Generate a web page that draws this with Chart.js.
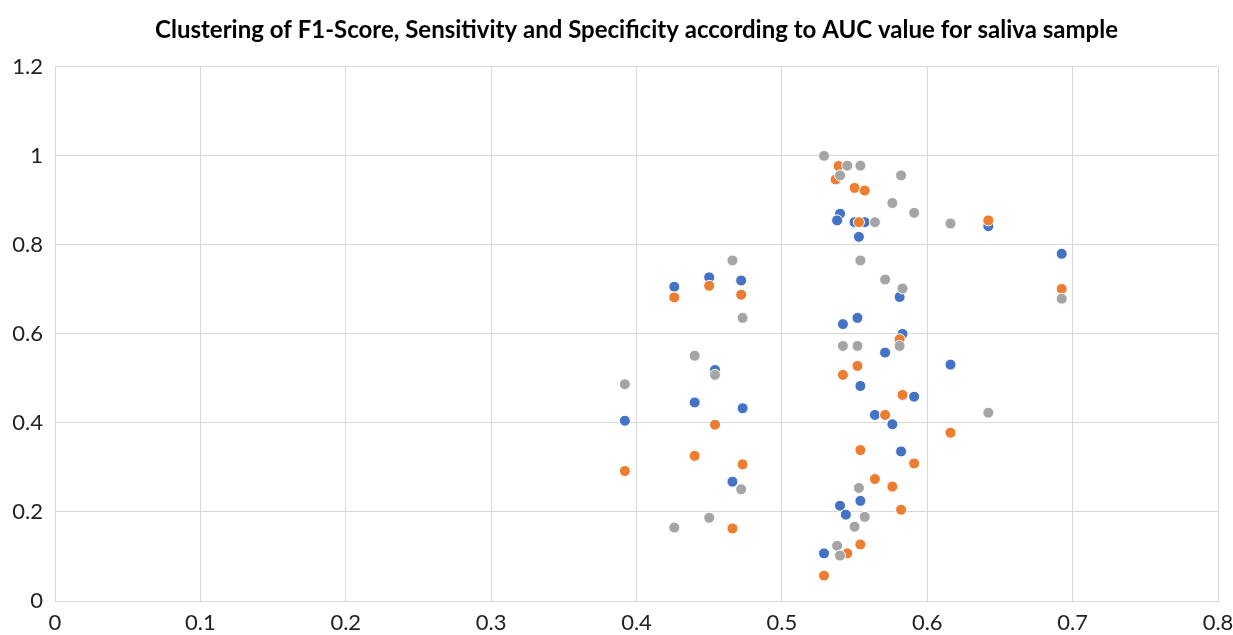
<!DOCTYPE html>
<html>
<head>
<meta charset="utf-8">
<title>Clustering of F1-Score, Sensitivity and Specificity</title>
<script src="https://cdn.jsdelivr.net/npm/chart.js@4.4.1/dist/chart.umd.min.js"></script>
<style>
    html, body { margin: 0; padding: 0; background: #ffffff; }
    .chart-box { width: 1233px; height: 635px; position: relative; }
</style>
</head>
<body>
<div class="chart-box">
    <canvas id="aucChart"></canvas>
</div>
<script>
// AUC (x) e valores de cada métrica (y)
const f1Auc = [0.392, 0.426, 0.440, 0.450, 0.454, 0.466, 0.472, 0.473, 0.529, 0.540, 0.538, 0.550, 0.557, 0.553,
    0.581, 0.552, 0.542, 0.583, 0.571, 0.554, 0.591, 0.564, 0.576, 0.582, 0.554, 0.540, 0.544, 0.616, 0.642, 0.6925];
const f1Score = [0.405, 0.706, 0.446, 0.727, 0.519, 0.268, 0.720, 0.433, 0.107, 0.870, 0.855, 0.851, 0.851, 0.818,
    0.683, 0.636, 0.622, 0.600, 0.558, 0.483, 0.459, 0.418, 0.397, 0.336, 0.225, 0.214, 0.194, 0.531, 0.842, 0.780];

const sensAuc = [0.392, 0.426, 0.440, 0.450, 0.454, 0.466, 0.472, 0.473, 0.539, 0.537, 0.550, 0.557, 0.553, 0.581,
    0.552, 0.542, 0.583, 0.571, 0.554, 0.591, 0.564, 0.576, 0.582, 0.554, 0.545, 0.529, 0.616, 0.642, 0.6925];
const sensitivity = [0.292, 0.682, 0.326, 0.708, 0.396, 0.163, 0.688, 0.307, 0.977, 0.947, 0.928, 0.922, 0.851, 0.588,
    0.528, 0.508, 0.463, 0.418, 0.339, 0.309, 0.274, 0.257, 0.205, 0.127, 0.107, 0.057, 0.378, 0.855, 0.701];

const specAuc = [0.392, 0.426, 0.440, 0.450, 0.454, 0.466, 0.472, 0.473, 0.529, 0.545, 0.554, 0.540, 0.582, 0.576,
    0.591, 0.564, 0.554, 0.571, 0.583, 0.581, 0.542, 0.552, 0.553, 0.557, 0.550, 0.538, 0.540, 0.616, 0.642, 0.6925];
const specificity = [0.487, 0.165, 0.551, 0.187, 0.508, 0.765, 0.251, 0.636, 1.000, 0.978, 0.978, 0.956, 0.956, 0.894,
    0.872, 0.851, 0.765, 0.722, 0.702, 0.573, 0.573, 0.573, 0.254, 0.189, 0.167, 0.124, 0.102, 0.848, 0.423, 0.679];

const xTickLabels = ['0', '0.1', '0.2', '0.3', '0.4', '0.5', '0.6', '0.7', '0.8'];
const yTickLabels = ['0', '0.2', '0.4', '0.6', '0.8', '1', '1.2'];

const toPoints = (xs, ys) => xs.map((x, i) => ({ x: x, y: ys[i] }));

document.addEventListener('DOMContentLoaded', function() {
    const ctx = document.getElementById('aucChart');

    const makeSet = (label, xs, ys, color, order) => ({
        label: label,
        data: toPoints(xs, ys),
        backgroundColor: color,
        borderColor: '#ffffff',
        borderWidth: 1,
        pointRadius: 5.5,
        pointHoverRadius: 5.5,
        order: order
    });

    new Chart(ctx, {
        type: 'scatter',
        data: {
            datasets: [
                makeSet('F1-Score', f1Auc, f1Score, '#4472C4', 2),
                makeSet('Sensitivity', sensAuc, sensitivity, '#ED7D31', 1),
                makeSet('Specificity', specAuc, specificity, '#A5A5A5', 0)
            ]
        },
        options: {
            responsive: true,
            maintainAspectRatio: false,
            animation: false,
            layout: { padding: 0 },
            plugins: {
                legend: { display: false },
                tooltip: { enabled: false },
                title: {
                    display: true,
                    fullSize: false,
                    text: 'Clustering of F1-Score, Sensitivity and Specificity according to AUC value for saliva sample',
                    color: '#000000',
                    font: { family: 'Lato', size: 24, weight: 'bold' },
                    padding: { top: 16, bottom: 22 }
                }
            },
            scales: {
                x: {
                    type: 'linear',
                    min: 0,
                    max: 0.8,
                    ticks: {
                        stepSize: 0.1,
                        color: '#222222',
                        font: { family: 'Lato', size: 22 },
                        padding: 9,
                        callback: (v, i) => xTickLabels[i]
                    },
                    grid: { color: '#d9d9d9', drawTicks: false },
                    border: { color: '#d9d9d9' },
                    afterFit: (scale) => {
                        scale.height = 34;
                        scale.paddingRight = 15;
                    }
                },
                y: {
                    min: 0,
                    max: 1.2,
                    ticks: {
                        stepSize: 0.2,
                        color: '#222222',
                        font: { family: 'Lato', size: 22 },
                        padding: 12,
                        callback: (v, i) => yTickLabels[i]
                    },
                    grid: { color: '#d9d9d9', drawTicks: false },
                    border: { color: '#d9d9d9' },
                    afterFit: (scale) => { scale.width = 55; }
                }
            }
        }
    });
});
</script>
</body>
</html>
